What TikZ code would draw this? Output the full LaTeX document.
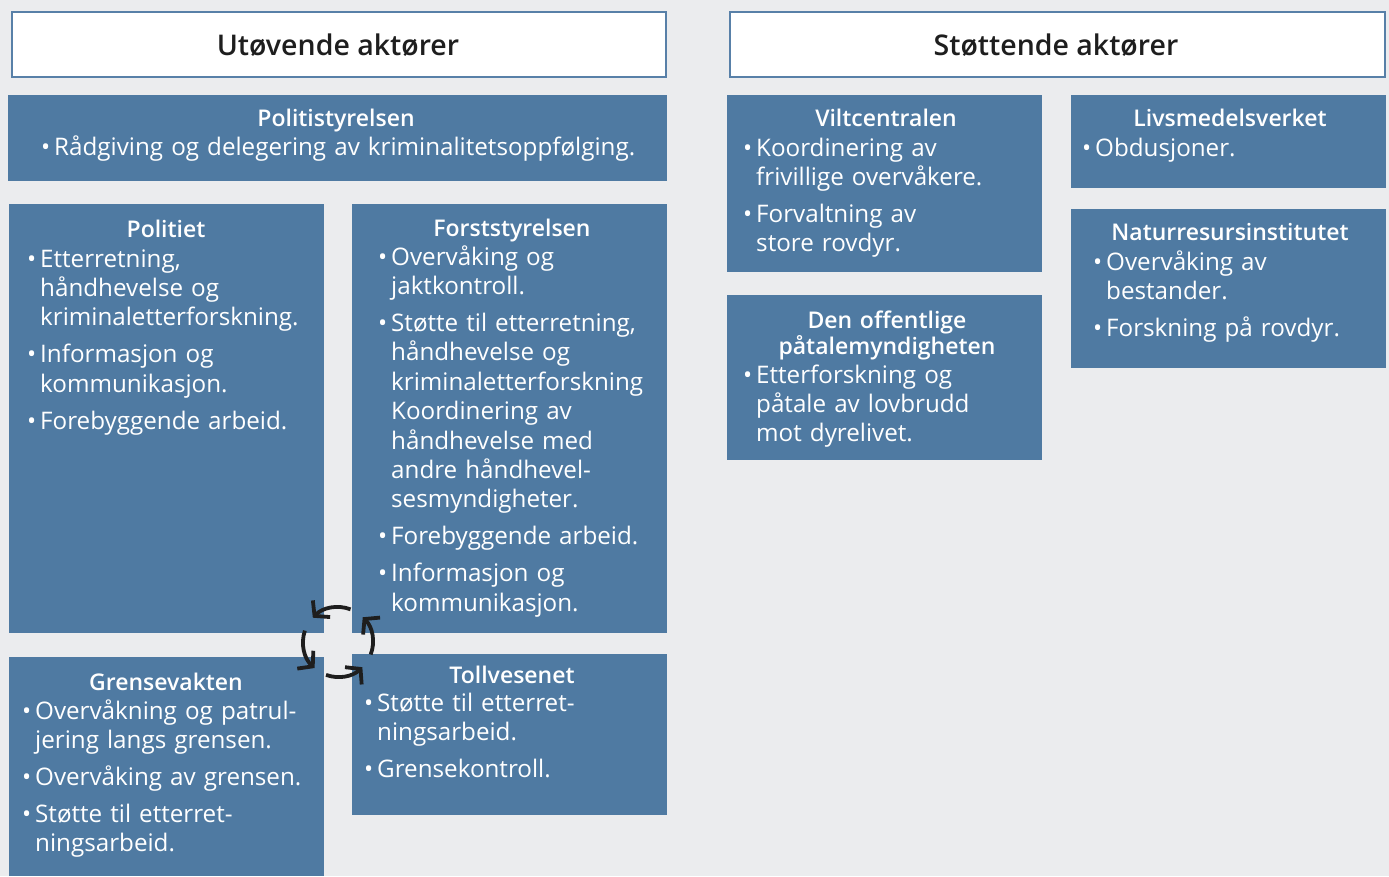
\documentclass[tikz,border=0pt]{standalone}
\usepackage{fontspec}
\setmainfont{Open Sans}
\IfFontExistsTF{Open Sans SemiBold}{%
  \newfontface\semib{Open Sans SemiBold}\def\ttlsize{23}\def\hdrsize{28.5}}{%
  \IfFontExistsTF{Open Sans Semibold}{%
    \newfontface\semib{Open Sans Semibold}\def\ttlsize{23}\def\hdrsize{28.5}}{%
    \newfontface\semib{Open Sans}[FakeBold=1.6]\def\ttlsize{23.5}\def\hdrsize{29.5}}}
\usetikzlibrary{arrows.meta}
\definecolor{bgc}{RGB}{235,236,238}
\definecolor{boxc}{RGB}{79,122,162}
\definecolor{hdrc}{RGB}{88,128,168}
\definecolor{iconc}{RGB}{30,30,30}
\definecolor{hdrtxt}{RGB}{30,30,30}
\newcommand{\bfirst}[1]{\hangindent=13pt\hangafter=1\noindent\makebox[13pt][l]{•}#1}
\newcommand{\bitem}[1]{\par\bfirst{#1}}
\newcommand{\nl}{\hfil\break}
\tikzset{
  blk/.style={fill=boxc, draw=none, anchor=north west, inner sep=0pt, outer sep=0pt},
  hdr/.style={fill=white, draw=hdrc, line width=2pt, anchor=north west, inner sep=0pt},
  htxt/.style={font=\fontsize{\hdrsize}{32}\semib, text=hdrtxt, anchor=base, inner sep=0pt},
  ttl/.style={text=white, font=\fontsize{\ttlsize}{26}\semib, anchor=base, inner sep=0pt,
    text width=315pt, execute at begin node={\centering}},
  lst/.style={text=white, font=\fontsize{24.2}{29.4}\selectfont, anchor=base west, inner sep=0pt,
    text width=640pt, execute at begin node={\setlength{\parskip}{7.6pt}\raggedright\hyphenpenalty=10000}},
  cycarrow/.style={draw=iconc, line width=3.8pt, -{Straight Barb[length=10pt,width=24pt]}}
}
\begin{document}
\begin{tikzpicture}[x=1pt,y=-1pt]
\fill[bgc] (0,0) rectangle (1389,876);
\useasboundingbox (0,0) rectangle (1389,876);
% headers
\node[hdr, minimum width=654pt, minimum height=65pt] (hdrL) at (11,11) {};
\node[hdr, minimum width=655pt, minimum height=65pt] (hdrR) at (729,11) {};
\node[htxt] (hdrLt) at (338,55) {Utøvende aktører};
\node[htxt] (hdrRt) at (1056,55) {Støttende aktører};
% boxes
\node[blk, minimum width=659pt, minimum height=86pt] (pstyr) at (8,95) {};
\node[blk, minimum width=315pt, minimum height=429pt] (politiet) at (9,204) {};
\node[blk, minimum width=315pt, minimum height=429pt] (forst) at (352,204) {};
\node[blk, minimum width=315pt, minimum height=219pt] (grense) at (9,657) {};
\node[blk, minimum width=315pt, minimum height=161pt] (toll) at (352,654) {};
\node[blk, minimum width=315pt, minimum height=177pt] (vilt) at (727,95) {};
\node[blk, minimum width=315pt, minimum height=93pt] (livs) at (1071,95) {};
\node[blk, minimum width=315pt, minimum height=159pt] (natur) at (1071,209) {};
\node[blk, minimum width=315pt, minimum height=165pt] (paatale) at (727,295) {};
% titles
\node[ttl] (pstyr-t) at (336,126) {Politistyrelsen};
\node[ttl] (politiet-t) at (166,237) {Politiet};
\node[ttl] (forst-t) at (512,236) {Forststyrelsen};
\node[ttl] (grense-t) at (166,690) {Grensevakten};
\node[ttl] (toll-t) at (512,683) {Tollvesenet};
\node[ttl] (vilt-t) at (886,126) {Viltcentralen};
\node[ttl] (livs-t) at (1230,126) {Livsmedelsverket};
\node[ttl] (natur-t) at (1230,240) {Naturresursinstitutet};
\node[ttl] (paatale-t) at (887,328) {Den offentlige\\påtalemyndigheten};
% lists
\node[lst] (pstyr-l) at (41,155) {\bfirst{Rådgiving og delegering av kriminalitetsoppfølging.}\par};
\node[lst] (politiet-l) at (27,267) {\bfirst{Etterretning,\nl håndhevelse og\nl kriminaletterforskning.}\bitem{Informasjon og\nl kommunikasjon.}\bitem{Forebyggende arbeid.}\par};
\node[lst] (forst-l) at (378,265) {\bfirst{Overvåking og\nl jaktkontroll.}\bitem{Støtte til etterretning,\nl håndhevelse og\nl kriminaletterforskning\nl Koordinering av\nl håndhevelse med\nl andre håndhevel-\nl sesmyndigheter.}\bitem{Forebyggende arbeid.}\bitem{Informasjon og\nl kommunikasjon.}\par};
\node[lst] (grense-l) at (22,719) {\bfirst{Overvåkning og patrul-\nl jering langs grensen.}\bitem{Overvåking av grensen.}\bitem{Støtte til etterret-\nl ningsarbeid.}\par};
\node[lst] (toll-l) at (364,711) {\bfirst{Støtte til etterret-\nl ningsarbeid.}\bitem{Grensekontroll.}\par};
\node[lst] (vilt-l) at (743,156) {\bfirst{Koordinering av\nl frivillige overvåkere.}\bitem{Forvaltning av\nl store rovdyr.}\par};
\node[lst] (livs-l) at (1082,156) {\bfirst{Obdusjoner.}\par};
\node[lst] (natur-l) at (1093,270) {\bfirst{Overvåking av\nl bestander.}\bitem{Forskning på rovdyr.}\par};
\node[lst] (paatale-l) at (743,383) {\bfirst{Etterforskning og\nl påtale av lovbrudd\nl mot dyrelivet.}\par};
% cycle icon
\coordinate (cyc) at (338,642);
\draw[cycarrow] ([shift={(69:35pt)}]cyc) arc[start angle=69, end angle=136, radius=35pt];
\draw[cycarrow] ([shift={(161:35pt)}]cyc) arc[start angle=161, end angle=228, radius=35pt];
\draw[cycarrow] ([shift={(250:35pt)}]cyc) arc[start angle=250, end angle=314, radius=35pt];
\draw[cycarrow] ([shift={(339:35pt)}]cyc) arc[start angle=339, end angle=405, radius=35pt];
\end{tikzpicture}
\end{document}
